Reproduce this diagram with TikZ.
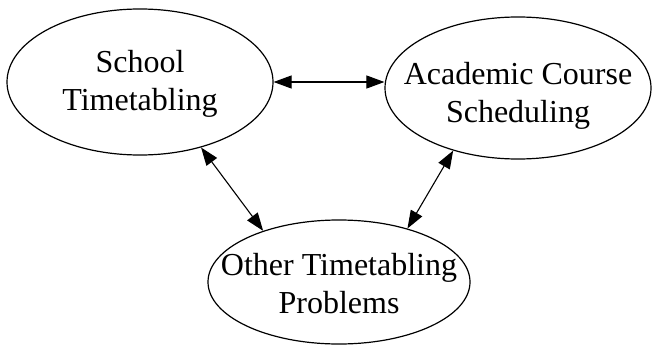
\documentclass[tikz,border=0pt]{standalone}
\usepackage{fontspec}
\setmainfont{Liberation Serif}
\usetikzlibrary{shapes.geometric,arrows.meta}
\begin{document}
\begin{tikzpicture}[x=1pt,y=-1pt,
  area/.style={draw,ellipse,line width=1.2pt,inner sep=0pt},
  areatext/.style={align=center,inner sep=0pt,font=\fontsize{32}{38}\selectfont},
  link/.style={line width=1.1pt,{Triangle[length=18pt,width=13pt]}-{Triangle[length=18pt,width=13pt]}}]
\useasboundingbox (0,0) rectangle (663,345);
% the three fields
\node[area,minimum width=266pt,minimum height=146pt] (school) at (140,82) {};
\node[area,minimum width=266pt,minimum height=142pt] (course) at (518,88) {};
\node[area,minimum width=262pt,minimum height=124pt] (other) at (339,282) {};
\node[areatext] (school-text) at (140,84) {School\\Timetabling};
\node[areatext] (course-text) at (518,96) {Academic Course\\Scheduling};
\node[areatext] (other-text) at (339,284) {Other Timetabling\\Problems};
% links
\draw[link] (school.east) -- (school.east -| course.west);
\draw[link] (school.-47.7) -- (other.146.5);
\draw[link] (course.-136.3) -- (other.38.6);
\end{tikzpicture}
\end{document}
